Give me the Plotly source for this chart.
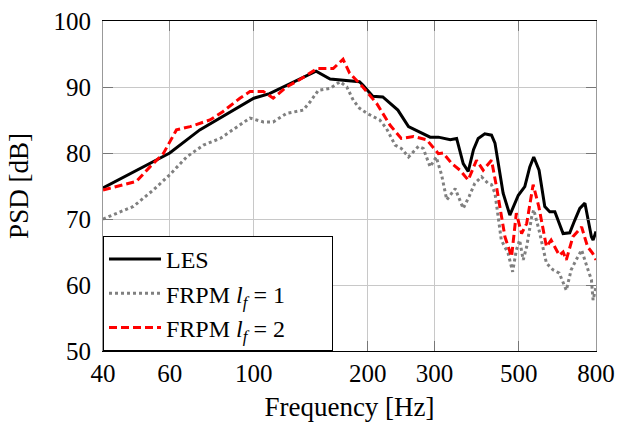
import plotly.graph_objects as go
import numpy as np

# ---- data ----
les_f = [40, 60, 72, 88, 100, 110, 146, 159, 176, 190, 194, 206, 219, 240, 256, 277, 292, 307,
         330, 343, 357, 368, 380, 391, 407, 424, 433, 455, 474, 499, 519, 535, 548, 566, 586,
         604, 623, 655, 682, 703, 725, 748, 778, 786, 800]
les_db = [74.7, 80.0, 83.5, 86.5, 88.3, 89.0, 92.4, 91.2, 91.0, 90.8, 90.3, 88.6, 88.5, 86.5, 84.0,
          83.0, 82.4, 82.4, 82.0, 82.2, 78.4, 77.2, 80.5, 82.2, 82.9, 82.7, 81.5, 73.9, 70.6, 73.6,
          74.9, 77.9, 79.4, 77.4, 71.9, 71.1, 71.1, 67.8, 67.9, 69.8, 71.6, 72.4, 67.3, 66.8, 68.1]

lf1_f = [40, 48.1, 54.3, 60, 66.5, 73.6, 81.5, 90.2, 97.7, 106, 112.5, 122, 135, 141, 148, 159,
         169, 176, 183, 190, 199, 215, 224, 236, 245, 256, 272, 280, 292, 303, 313, 323, 340,
         357, 370, 383, 399, 415, 424, 433, 450, 469, 482, 493, 503, 514, 525, 541, 548, 566,
         592, 616, 640, 668, 688, 709, 733, 757, 778, 786, 800]
lf1_db = [70.0, 71.9, 74.4, 76.7, 79.4, 81.2, 82.2, 84.0, 85.3, 84.7, 84.7, 86.0, 86.5, 87.8, 89.5,
          89.8, 90.8, 90.0, 88.0, 86.8, 86.0, 85.0, 83.7, 81.2, 80.7, 79.4, 81.0, 80.7, 77.9, 79.4,
          76.7, 72.9, 74.6, 71.6, 73.4, 75.4, 76.4, 75.4, 75.2, 73.9, 66.8, 64.8, 62.0, 65.3, 66.8,
          63.8, 65.8, 70.3, 71.4, 68.3, 63.3, 62.3, 61.8, 59.2, 62.3, 63.8, 65.3, 62.8, 60.8, 57.7,
          59.7]

lf2_f = [40, 49, 53.2, 57.7, 62.5, 67.9, 76.6, 83, 91.9, 97.7, 106, 112.5, 122, 132, 147, 162,
         172, 179, 194, 211, 229, 245, 264, 286, 307, 316, 333, 350, 368, 387, 403, 424, 437,
         460, 479, 493, 509, 525, 546, 565, 592, 609, 640, 655, 668, 695, 733, 760, 784, 800]
lf2_db = [74.4, 75.7, 77.9, 79.9, 83.5, 84.0, 85.0, 86.3, 88.3, 89.3, 89.3, 88.3, 90.0, 91.1, 92.8,
          92.8, 94.2, 92.1, 90.0, 87.5, 84.2, 82.2, 82.5, 82.0, 79.9, 80.0, 78.4, 77.4, 75.9, 78.9,
          77.4, 78.9, 74.9, 67.3, 64.3, 70.9, 67.8, 69.3, 75.2, 71.9, 65.8, 66.8, 64.5, 65.0, 63.8,
          67.3, 68.8, 65.8, 64.8, 63.8]

x_ticks = [40, 60, 100, 200, 300, 500, 800]
y_ticks = [50, 60, 70, 80, 90, 100]

FONT = "Liberation Serif"
PAD = "\u00a0" * 7


def fnt(size):
    return dict(family=FONT, size=size, color="black")


fig = go.Figure()
fig.add_trace(go.Scatter(x=les_f, y=les_db, mode="lines", name="LES",
                         line=dict(color="black", width=3)))
fig.add_trace(go.Scatter(x=lf1_f, y=lf1_db, mode="lines",
                         name="FRPM <i>l</i><sub><i>f</i></sub> = 1" + PAD,
                         line=dict(color="#808080", width=3, dash="3px,3px")))
fig.add_trace(go.Scatter(x=lf2_f, y=lf2_db, mode="lines",
                         name="FRPM <i>l</i><sub><i>f</i></sub> = 2" + PAD,
                         line=dict(color="#ff0000", width=3, dash="8px,4px")))

fig.update_layout(
    template="none",
    width=619, height=422,
    margin=dict(l=103, r=23, t=21, b=71, autoexpand=False),
    paper_bgcolor="white", plot_bgcolor="white",
    font=fnt(25),
    showlegend=True,
    legend=dict(x=0, y=0, xanchor="left", yanchor="bottom",
                bgcolor="white", bordercolor="black", borderwidth=1,
                font=fnt(24), itemwidth=52, tracegroupgap=0),
    xaxis=dict(type="log", range=[np.log10(40), np.log10(800)],
               tickvals=x_ticks, ticktext=[str(v) for v in x_ticks], tickfont=fnt(25),
               showgrid=True, gridcolor="#c8c8c8", gridwidth=1,
               ticks="inside", ticklen=10, tickcolor="#777777", tickwidth=1,
               showline=True, linecolor="black", linewidth=1, mirror="ticks",
               zeroline=False, automargin=False,
               title=dict(text="Frequency [Hz]", font=fnt(27), standoff=12)),
    yaxis=dict(range=[50, 100], tickvals=y_ticks, tickfont=fnt(25),
               showgrid=True, gridcolor="#c8c8c8", gridwidth=1,
               ticks="inside", ticklen=10, tickcolor="#777777", tickwidth=1,
               showline=True, linecolor="#999999", linewidth=1, mirror="ticks",
               zeroline=False, automargin=False, ticklabelstandoff=6,
               title=dict(text="PSD [dB]", font=fnt(27), standoff=17)),
)

fig.write_html("out.html", config={"displayModeBar": False},
               post_script="document.body.style.margin='0';")
